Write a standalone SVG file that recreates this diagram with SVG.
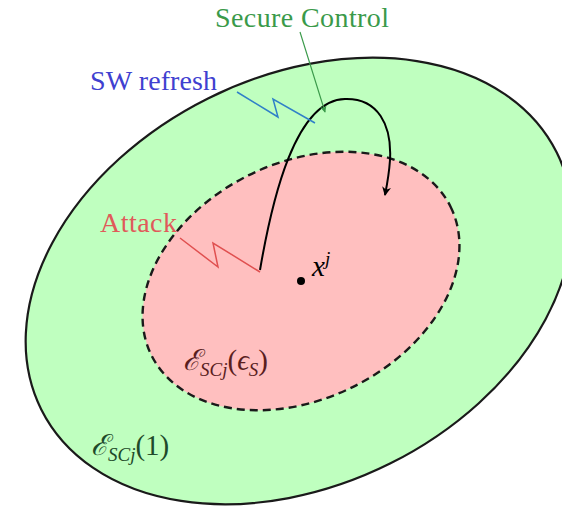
<svg xmlns="http://www.w3.org/2000/svg" width="562" height="507" viewBox="0 0 562 507">
<style>
.lbl{font-family:"Liberation Serif","DejaVu Serif",serif;font-size:28px}
.math{font-family:"Liberation Serif","DejaVu Serif",serif;font-size:29px}
.it{font-style:italic}
.sub{font-size:19px;font-style:italic}
</style>
<defs>
<marker id="ah" viewBox="0 0 10 10" refX="9" refY="5" markerWidth="9" markerHeight="9" markerUnits="userSpaceOnUse" orient="auto">
<path d="M0,0 L10,5 L0,10 L3,5 Z" fill="#000"/>
</marker>
<marker id="ahg" viewBox="0 0 10 10" refX="9" refY="5" markerWidth="7" markerHeight="7" markerUnits="userSpaceOnUse" orient="auto">
<path d="M0,0 L10,5 L0,10 L3,5 Z" fill="#3a9a4a"/>
</marker>
</defs>
<rect width="562" height="507" fill="#fff"/>
<g id="outer-set">
<ellipse cx="299" cy="281" rx="288" ry="204" transform="rotate(-26.5 299 281)" fill="#bfffbf" stroke="#1a1a1a" stroke-width="2.2"/>
</g>
<g id="inner-set">
<ellipse cx="301" cy="281" rx="167" ry="118" transform="rotate(-26.5 301 281)" fill="#ffbfbf" stroke="#1a1a1a" stroke-width="2.4" stroke-dasharray="8,5"/>
</g>
<g id="center-point">
<circle cx="301" cy="281" r="4" fill="#000"/>
<text x="312" y="276" class="math it">x<tspan class="sub" dy="-11">j</tspan></text>
</g>
<g id="label-inner">
<text x="183" y="370" class="math" fill="#5a1e1e"><tspan class="it">ℰ</tspan><tspan class="sub" dy="6">SCj</tspan><tspan dy="-6">(</tspan><tspan class="it">ϵ</tspan><tspan class="sub" dy="6">S</tspan><tspan dy="-6">)</tspan></text>
</g>
<g id="label-outer">
<text x="91" y="455" class="math" fill="#1e4a2a"><tspan class="it">ℰ</tspan><tspan class="sub" dy="6">SCj</tspan><tspan dy="-6">(1)</tspan></text>
</g>
<g id="secure-control">
<text x="215" y="27" class="lbl" fill="#3a9a4a" textLength="174">Secure Control</text>
</g>
<g id="sw-refresh">
<text x="90" y="90" class="lbl" fill="#4040d0" textLength="127">SW refresh</text>
</g>
<g id="attack">
<text x="100" y="232" class="lbl" fill="#e05a5a" textLength="77">Attack</text>
</g>
<g id="connectors" fill="none">
<path d="M260,270 C272,200 295,100 345,99 C378,98 392,125 390,160 C389,175 387,185 385,195" stroke="#000" stroke-width="2" marker-end="url(#ah)"/>
<path d="M300,32 L325,112" stroke="#3a9a4a" stroke-width="1.2" marker-end="url(#ahg)"/>
<path d="M237,92 L278,117 L273,99 L315,123" stroke="#3080c8" stroke-width="1.5"/>
<path d="M180,238 L218,267 L213,243 L260,272" stroke="#e05050" stroke-width="1.5"/>
</g>
</svg>
